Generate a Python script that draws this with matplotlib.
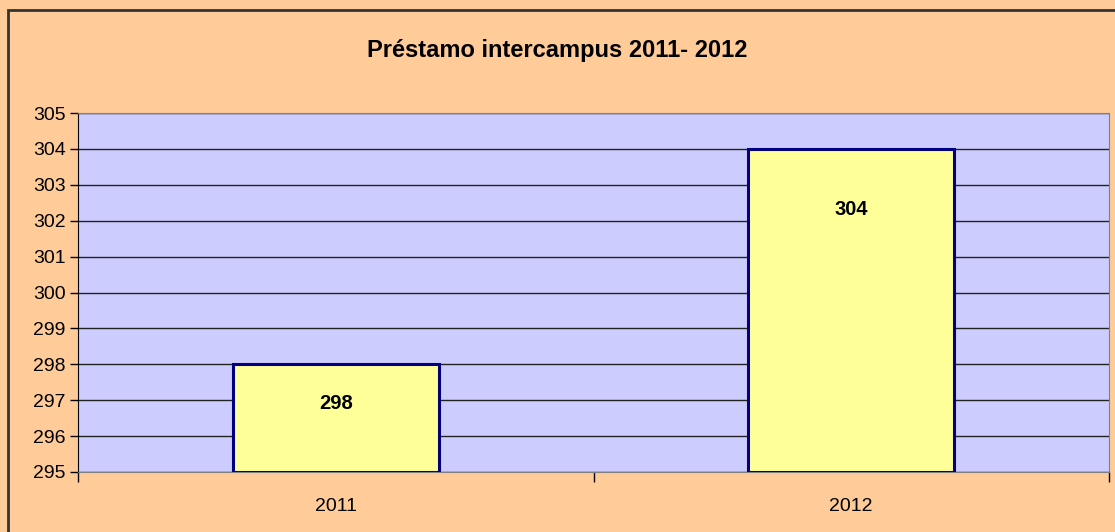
import matplotlib.pyplot as plt
from matplotlib.patches import Rectangle
import numpy as np

# data
years = ['2011', '2012']
prestamos = [298, 304]
y_ticks = list(range(295, 306))
title = 'Préstamo intercampus 2011- 2012'

plt.rcParams['font.family'] = ['Liberation Sans', 'DejaVu Sans']

fig = plt.figure(figsize=(11.15, 5.32), dpi=100, facecolor='#FFCC99')
# plot area in pixels: x 78..1109, y 113..472
W, H = 1115, 532
ax = fig.add_axes([78 / W, 1 - 472 / H, (1109 - 78) / W, (472 - 113) / H])
ax.set_facecolor('#CCCCFF')

x = np.arange(len(years))
ax.bar(x, [v - 295 for v in prestamos], bottom=295, width=0.4,
       color='#FFFF99', edgecolor='#000080', linewidth=2.2, zorder=3)

# value labels (offset below bar top, as in the original)
label_drop = [1.1, 1.7]
for xi, v, d in zip(x, prestamos, label_drop):
    ax.text(xi, v - d, str(v), ha='center', va='center',
            fontsize=14.5, fontweight='bold', zorder=4)

ax.set_xlim(-0.5, len(years) - 0.5)
ax.set_ylim(295, 305)
ax.set_yticks(y_ticks)
ax.tick_params(axis='y', labelsize=14, length=6, width=1, direction='out', pad=3)
ax.yaxis.grid(True, color='#222222', linewidth=1)
ax.set_axisbelow(True)

# category labels centered, ticks at boundaries
ax.set_xticks(x)
ax.set_xticklabels(years, fontsize=14)
ax.tick_params(axis='x', which='major', length=0, pad=19)
ax.set_xticks(np.arange(-0.5, len(years)), minor=True)
ax.tick_params(axis='x', which='minor', length=7, width=1, direction='out')

for s in ['top', 'right']:
    ax.spines[s].set_color('#808080')
ax.spines['left'].set_color('#000000')
ax.spines['bottom'].set_color('#808080')

fig.text(557 / W, 1 - 50 / H, title, ha='center', va='center',
         fontsize=17, fontweight='bold')

# chart border
fig.patches.append(Rectangle((8 / W, -0.1), 1.2, 1 - 10 / H + 0.1,
                             transform=fig.transFigure, fill=False,
                             edgecolor='#333333', linewidth=2))

fig.savefig('out.png', dpi=100, facecolor=fig.get_facecolor())
